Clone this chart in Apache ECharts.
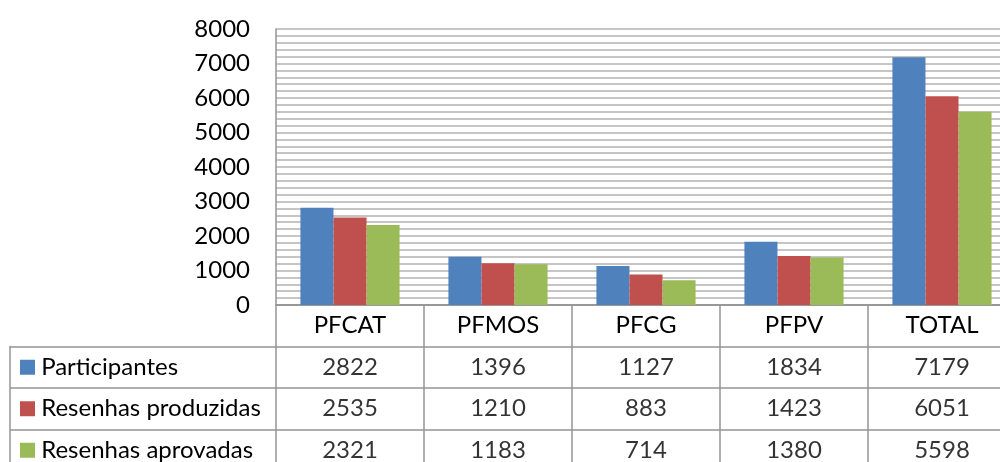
<!DOCTYPE html>
<html><head><meta charset="utf-8">
<script src="https://cdn.jsdelivr.net/npm/echarts@6/dist/echarts.min.js"></script>
<style>html,body{margin:0;padding:0;background:#fff}#c{width:1000px;height:462px}</style>
</head><body><div id="c"></div>
<script>
const categories = ['PFCAT', 'PFMOS', 'PFCG', 'PFPV', 'TOTAL'];
const seriesNames = ['Participantes', 'Resenhas produzidas', 'Resenhas aprovadas'];
const participantes = [2822, 1396, 1127, 1834, 7179];
const produzidas = [2535, 1210, 883, 1423, 6051];
const aprovadas = [2321, 1183, 714, 1380, 5598];
const colors = ['#4F81BD', '#C0504D', '#9BBB59'];

const values = [participantes, produzidas, aprovadas];
const FONT = 'Lato';
const FS = 24;
const lineColor = '#959595';
const gridColor = '#b3b3b3';

const chart = echarts.init(document.getElementById('c'));

const rich = {};
colors.forEach((c, i) => { rich['m' + i] = { width: 15, height: 15, backgroundColor: c }; });

const cellData = [];
values.forEach((arr, s) => arr.forEach((v, i) => cellData.push([i, s + 1, v])));

const series = values.map((arr, s) => ({
  type: 'bar', name: seriesNames[s], xAxisIndex: 0, yAxisIndex: 0,
  data: arr, itemStyle: { color: colors[s] },
  barGap: '0%', barCategoryGap: '33%'
}));
series.push({
  type: 'scatter', xAxisIndex: 1, yAxisIndex: 1, data: cellData,
  symbol: 'rect', symbolSize: 1, itemStyle: { color: 'rgba(0,0,0,0)' }, silent: true,
  label: { show: true, position: 'inside', formatter: p => String(p.value[2]),
    fontFamily: FONT, fontSize: FS, color: '#000' }
});

chart.setOption({
  animation: false,
  grid: [
    { left: 276, top: 29, width: 740, height: 276, outerBoundsMode: 'none', containLabel: false },
    { left: 276, top: 305, width: 740, height: 166, outerBoundsMode: 'none', containLabel: false },
    { left: 10, top: 346.5, width: 266, height: 124.5, outerBoundsMode: 'none', containLabel: false }
  ],
  xAxis: [
    { type: 'category', gridIndex: 0, data: categories,
      axisLine: { show: true, lineStyle: { color: lineColor, width: 1.5 } },
      axisTick: { show: false },
      axisLabel: { show: true, margin: 20, verticalAlign: 'middle', fontFamily: FONT, fontSize: FS, color: '#000' } },
    { type: 'category', gridIndex: 1, data: categories,
      axisLine: { show: false }, axisTick: { show: false }, axisLabel: { show: false },
      splitLine: { show: true, lineStyle: { color: lineColor, width: 1.5 } } },
    { type: 'value', gridIndex: 2, show: false }
  ],
  yAxis: [
    { type: 'value', gridIndex: 0, min: 0, max: 8000, interval: 1000,
      axisLine: { show: true, lineStyle: { color: lineColor, width: 1.5 } },
      axisTick: { show: false },
      axisLabel: { margin: 26, fontFamily: FONT, fontSize: FS, color: '#000', formatter: v => String(v) },
      splitLine: { show: true, lineStyle: { color: gridColor, width: 1.5 } },
      minorTick: { show: false, splitNumber: 5 },
      minorSplitLine: { show: true, lineStyle: { color: gridColor, width: 1.5 } } },
    { type: 'category', gridIndex: 1, inverse: true, data: ['', ...seriesNames],
      axisLine: { show: false }, axisTick: { show: false }, axisLabel: { show: false },
      splitLine: { show: true, lineStyle: { color: lineColor, width: 1.5 } } },
    { type: 'category', gridIndex: 2, inverse: true, data: seriesNames,
      axisLine: { show: true, lineStyle: { color: lineColor, width: 1.5 } },
      axisTick: { show: false },
      axisLabel: { inside: true, margin: 10, align: 'left', fontFamily: FONT, fontSize: FS, color: '#000',
        formatter: (v, i) => '{m' + i + '|} ' + v, rich: rich },
      splitLine: { show: true, lineStyle: { color: lineColor, width: 1.5 } } }
  ],
  series: series
});
</script></body></html>
